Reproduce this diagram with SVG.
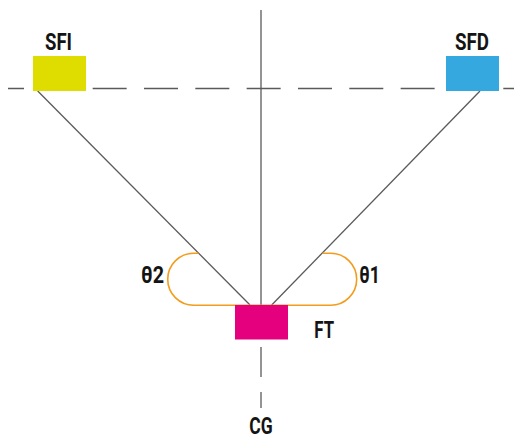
<svg xmlns="http://www.w3.org/2000/svg" width="514" height="438" viewBox="0 0 514 438">
<style>
.ln{stroke:#5a5a5a;stroke-width:1.3;fill:none}
.lb{font-family:Roboto,"Liberation Sans",sans-serif;font-weight:bold;font-size:23px;fill:#141414}
</style>
<rect width="514" height="438" fill="#fff"/>
<g id="connectors">
<line class="ln" x1="8" y1="88.5" x2="514" y2="88.5" stroke-dasharray="34 17.33" stroke-dashoffset="18"/>
<line class="ln" x1="261" y1="10" x2="261" y2="305"/>
<line class="ln" x1="261" y1="347" x2="261" y2="377"/>
<line class="ln" x1="261" y1="392" x2="261" y2="408"/>
<line class="ln" x1="37.7" y1="91" x2="250" y2="305"/>
<line class="ln" x1="480" y1="91" x2="271.7" y2="305"/>
<path d="M198.4,253.3 H193.7 A26,26 0 0 0 193.7,305.3 H330.7 A26,26 0 0 0 330.7,253.3 H322.5" fill="none" stroke="#f39c1e" stroke-width="1.6"/>
</g>
<g id="SFI">
<rect x="33" y="56" width="53" height="35" fill="#dfdc00"/>
<text class="lb" x="45" y="50" textLength="27" lengthAdjust="spacingAndGlyphs">SFI</text>
</g>
<g id="SFD">
<rect x="446" y="56" width="53" height="35" fill="#35a8e0"/>
<text class="lb" x="455" y="50" textLength="34" lengthAdjust="spacingAndGlyphs">SFD</text>
</g>
<g id="FT">
<rect x="235" y="305" width="53" height="34.5" fill="#e5007d"/>
<text class="lb" x="314.3" y="338" textLength="19.7" lengthAdjust="spacingAndGlyphs">FT</text>
</g>
<g id="theta2">
<text class="lb" x="141" y="283" textLength="23" lengthAdjust="spacingAndGlyphs">θ2</text>
</g>
<g id="theta1">
<text class="lb" x="359.3" y="283" textLength="20.7" lengthAdjust="spacingAndGlyphs">θ1</text>
</g>
<g id="CG">
<text class="lb" x="249.3" y="434" textLength="23.4" lengthAdjust="spacingAndGlyphs">CG</text>
</g>
</svg>
